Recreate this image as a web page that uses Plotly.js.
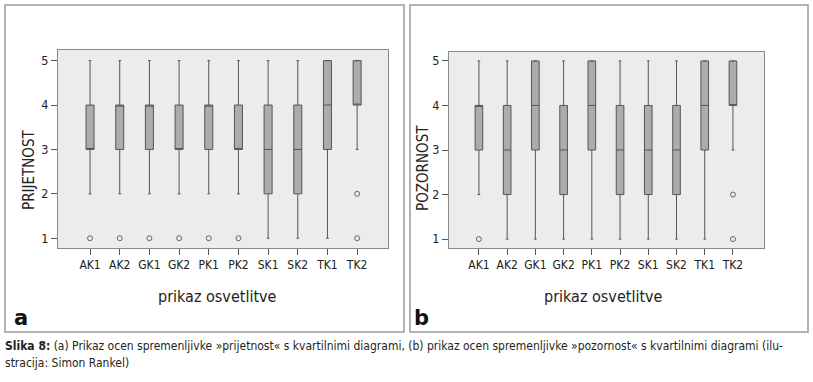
<!DOCTYPE html>
<html><head><meta charset="utf-8">
<script src="https://cdn.plot.ly/plotly-3.0.1.min.js"></script>
<style>html,body{margin:0;padding:0;background:#fff;}#chart{width:813px;height:382px;}</style>
</head><body><div id="chart"></div>
<script>
const categories = ['AK1','AK2','GK1','GK2','PK1','PK2','SK1','SK2','TK1','TK2'];

const prijQ1  = [3,3,3,3,3,3,2,2,3,4];
const prijMed = [3,4,4,3,4,3,3,3,4,4];
const prijQ3  = [4,4,4,4,4,4,4,4,5,5];
const prijLo  = [2,2,2,2,2,2,1,1,1,3];
const prijHi  = [5,5,5,5,5,5,5,5,5,5];
const prijOutX = ['AK1','AK2','GK1','GK2','PK1','PK2','TK2','TK2'];
const prijOutY = [1,1,1,1,1,1,2,1];

const pozQ1  = [3,2,3,2,3,2,2,2,3,4];
const pozMed = [4,3,4,3,4,3,3,3,4,4];
const pozQ3  = [4,4,5,4,5,4,4,4,5,5];
const pozLo  = [2,1,1,1,1,1,1,1,1,3];
const pozHi  = [5,5,5,5,5,5,5,5,5,5];
const pozOutX = ['AK1','TK2','TK2'];
const pozOutY = [1,2,1];

const yTicks = [1,2,3,4,5];
const xTitle = 'prikaz osvetlitve';
const yTitleA = 'PRIJETNOST';
const yTitleB = 'POZORNOST';

const W = 813, H = 382;
const px = v => v / W;
const py = v => 1 - v / H;
const FONT = 'Liberation Sans Narrow, DejaVu Sans Condensed, Arial Narrow, sans-serif';

function boxTrace(q1, med, q3, lo, hi, xa, ya) {
  return {
    type: 'box', x: categories, q1: q1, median: med, q3: q3,
    lowerfence: lo, upperfence: hi,
    xaxis: xa, yaxis: ya, width: 0.27, whiskerwidth: 0.35,
    fillcolor: '#acacac', line: {color: '#555555', width: 1},
    boxpoints: false, showlegend: false, hoverinfo: 'skip'
  };
}
function outTrace(x, y, xa, ya) {
  return {
    type: 'scatter', mode: 'markers', x: x, y: y, xaxis: xa, yaxis: ya,
    marker: {symbol: 'circle-open', size: 5, color: '#666666', line: {width: 1}},
    showlegend: false, hoverinfo: 'skip'
  };
}

const data = [
  boxTrace(prijQ1, prijMed, prijQ3, prijLo, prijHi, 'x', 'y'),
  outTrace(prijOutX, prijOutY, 'x', 'y'),
  boxTrace(pozQ1, pozMed, pozQ3, pozLo, pozHi, 'x2', 'y2'),
  outTrace(pozOutX, pozOutY, 'x2', 'y2')
];

const xCommon = {
  type: 'category', categoryorder: 'array', categoryarray: categories,
  showgrid: false, zeroline: false, showline: true, linecolor: '#8a8a8a', linewidth: 1, mirror: true,
  ticks: 'outside', ticklen: 6, tickcolor: '#555', tickfont: {family: FONT, size: 12, color: '#222'}
};
const yCommon = {
  tickmode: 'array', tickvals: yTicks, showgrid: false, zeroline: false,
  showline: true, linecolor: '#8a8a8a', linewidth: 1, mirror: true,
  ticks: 'outside', ticklen: 6, tickcolor: '#555', tickfont: {family: FONT, size: 12.5, color: '#222'}
};

const layout = {
  width: W, height: H, margin: {l: 0, r: 0, t: 0, b: 0},
  paper_bgcolor: '#ffffff', plot_bgcolor: '#ececec',
  xaxis: Object.assign({}, xCommon, {domain: [px(58), px(388)], range: [-1.08, 10.04], anchor: 'y'}),
  yaxis: Object.assign({}, yCommon, {domain: [py(248), py(50)], range: [0.78, 5.24], anchor: 'x'}),
  xaxis2: Object.assign({}, xCommon, {domain: [px(449), px(764)], range: [-1.06, 10.1], anchor: 'y2'}),
  yaxis2: Object.assign({}, yCommon, {domain: [py(248), py(52)], range: [0.8, 5.2], anchor: 'x2'}),
  shapes: [
    {type: 'rect', xref: 'paper', yref: 'paper', x0: px(5), x1: px(404), y0: py(332), y1: py(5),
     line: {color: '#9a9a9a', width: 1.5}, fillcolor: 'rgba(0,0,0,0)', layer: 'below'},
    {type: 'rect', xref: 'paper', yref: 'paper', x0: px(410), x1: px(808), y0: py(332), y1: py(5),
     line: {color: '#9a9a9a', width: 1.5}, fillcolor: 'rgba(0,0,0,0)', layer: 'below'}
  ],
  annotations: [
    {text: xTitle, xref: 'paper', yref: 'paper', x: px(217), y: py(296), xanchor: 'center', yanchor: 'middle',
     showarrow: false, font: {family: FONT, size: 16, color: '#222'}},
    {text: xTitle, xref: 'paper', yref: 'paper', x: px(603), y: py(296), xanchor: 'center', yanchor: 'middle',
     showarrow: false, font: {family: FONT, size: 16, color: '#222'}},
    {text: yTitleA, xref: 'paper', yref: 'paper', x: px(29), y: py(170), xanchor: 'center', yanchor: 'middle',
     textangle: -90, showarrow: false, font: {family: FONT, size: 15, color: '#222'}},
    {text: yTitleB, xref: 'paper', yref: 'paper', x: px(423), y: py(168), xanchor: 'center', yanchor: 'middle',
     textangle: -90, showarrow: false, font: {family: FONT, size: 15, color: '#222'}},
    {text: '<b>a</b>', xref: 'paper', yref: 'paper', x: px(12), y: py(318), xanchor: 'left', yanchor: 'middle',
     showarrow: false, font: {family: 'DejaVu Sans, sans-serif', size: 21, color: '#111'}},
    {text: '<b>b</b>', xref: 'paper', yref: 'paper', x: px(412), y: py(318), xanchor: 'left', yanchor: 'middle',
     showarrow: false, font: {family: 'DejaVu Sans, sans-serif', size: 21, color: '#111'}},
    {text: '<b>Slika 8:</b> (a) Prikaz ocen spremenljivke »prijetnost« s kvartilnimi diagrami, (b) prikaz ocen spremenljivke »pozornost« s kvartilnimi diagrami (ilu-',
     xref: 'paper', yref: 'paper', x: px(3), y: py(346), xanchor: 'left', yanchor: 'middle',
     showarrow: false, font: {family: FONT, size: 12, color: '#231f20'}},
    {text: 'stracija: Simon Rankel)',
     xref: 'paper', yref: 'paper', x: px(3), y: py(363), xanchor: 'left', yanchor: 'middle',
     showarrow: false, font: {family: FONT, size: 12, color: '#231f20'}}
  ]
};

Plotly.newPlot('chart', data, layout, {staticPlot: true, displayModeBar: false});
</script></body></html>
